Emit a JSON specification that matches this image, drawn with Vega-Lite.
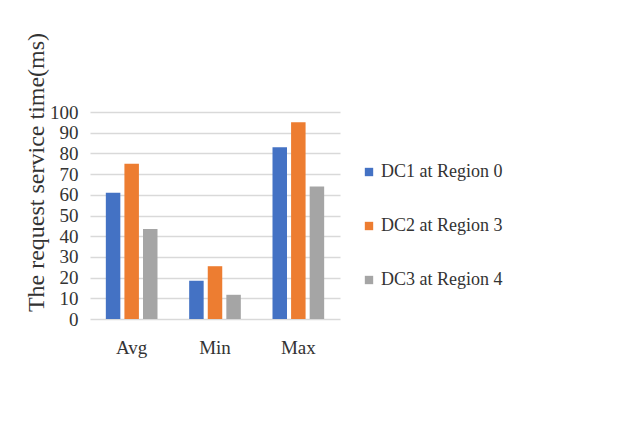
{
  "$schema": "https://vega.github.io/schema/vega-lite/v6.json",
  "width": 250,
  "height": 207,
  "autosize": "none",
  "padding": {"left": 90, "top": 112, "right": 285, "bottom": 102},
  "background": "white",
  "config": {
    "font": "Liberation Serif",
    "view": {"stroke": null}
  },
  "data": {
    "values": [
      {"metric": "Avg", "dc": "DC1 at Region 0", "value": 61},
      {"metric": "Avg", "dc": "DC2 at Region 3", "value": 75},
      {"metric": "Avg", "dc": "DC3 at Region 4", "value": 43.5},
      {"metric": "Min", "dc": "DC1 at Region 0", "value": 18.5},
      {"metric": "Min", "dc": "DC2 at Region 3", "value": 25.5},
      {"metric": "Min", "dc": "DC3 at Region 4", "value": 11.7},
      {"metric": "Max", "dc": "DC1 at Region 0", "value": 83},
      {"metric": "Max", "dc": "DC2 at Region 3", "value": 95},
      {"metric": "Max", "dc": "DC3 at Region 4", "value": 64}
    ]
  },
  "mark": {"type": "bar"},
  "encoding": {
    "x": {
      "field": "metric",
      "type": "nominal",
      "sort": ["Avg", "Min", "Max"],
      "scale": {"paddingInner": 0.38, "paddingOuter": 0.19},
      "axis": {
        "title": null,
        "labelAngle": 0,
        "labelFontSize": 19,
        "labelColor": "#333333",
        "labelPadding": 19,
        "ticks": false,
        "domain": false,
        "grid": false
      }
    },
    "xOffset": {
      "field": "dc",
      "type": "nominal",
      "scale": {"paddingInner": 0.22, "paddingOuter": 0}
    },
    "y": {
      "field": "value",
      "type": "quantitative",
      "scale": {"domain": [0, 100], "nice": false},
      "axis": {
        "title": "The request service time(ms)",
        "titleFont": "Liberation Serif",
        "titleFontSize": 24,
        "titleFontWeight": "normal",
        "titleColor": "#333333",
        "titleAngle": -90,
        "titleX": -54,
        "titleY": 60,
        "titleAlign": "center",
        "titleBaseline": "middle",
        "values": [0, 10, 20, 30, 40, 50, 60, 70, 80, 90, 100],
        "labelFontSize": 19,
        "labelColor": "#333333",
        "labelPadding": 12,
        "ticks": false,
        "domain": false,
        "gridColor": "#d9d9d9",
        "gridWidth": 1.5
      }
    },
    "color": {
      "field": "dc",
      "type": "nominal",
      "scale": {
        "domain": ["DC1 at Region 0", "DC2 at Region 3", "DC3 at Region 4"],
        "range": ["#4472C4", "#ED7D31", "#A5A5A5"]
      },
      "legend": {
        "title": null,
        "orient": "none",
        "legendX": 270,
        "legendY": 51,
        "symbolType": "square",
        "symbolSize": 70,
        "symbolStrokeWidth": 0,
        "labelFontSize": 18,
        "labelColor": "#333333",
        "labelOffset": 3,
        "rowPadding": 36
      }
    }
  }
}
